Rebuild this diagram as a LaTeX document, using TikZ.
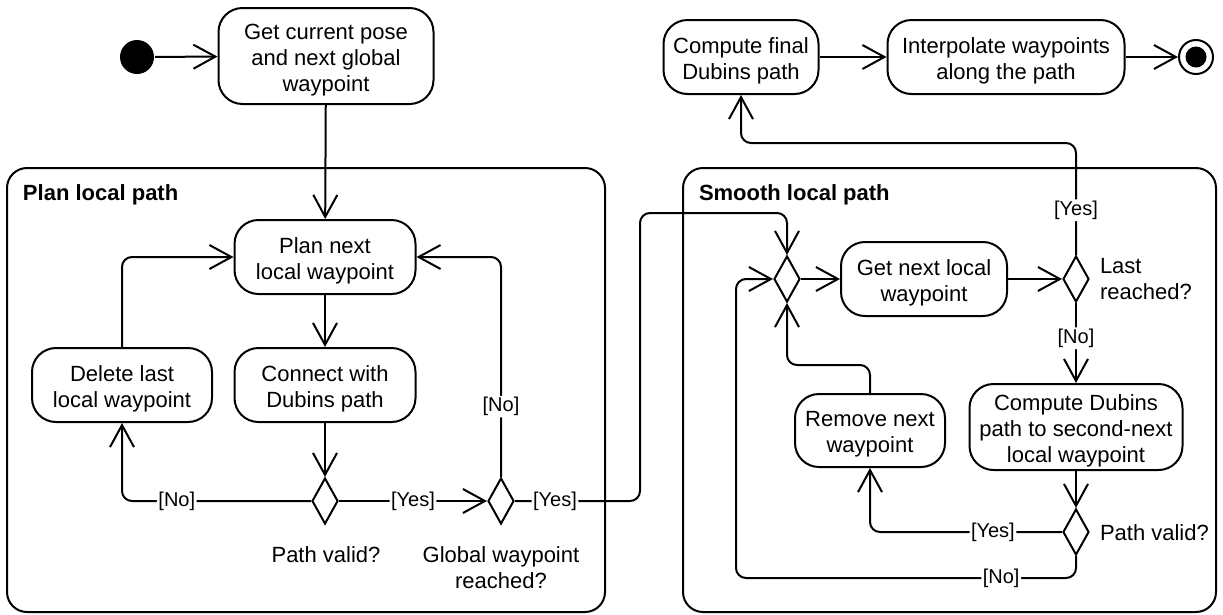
\documentclass[tikz,border=0pt]{standalone}
\usepackage{fontspec}
\setmainfont{Liberation Sans}
\usetikzlibrary{arrows.meta,shapes.geometric}

% invisible strut that lowers the text block inside the action boxes
\newcommand{\boxtop}{\rule{0pt}{23pt}}

\begin{document}
\begin{tikzpicture}[x=1pt,y=-1pt,
  line width=2pt,
  every node/.style={font=\fontsize{22}{26}\selectfont},
  act/.style={draw, rounded corners=24pt, align=center, inner sep=0pt},
  frame/.style={draw, rounded corners=20pt},
  frametitle/.style={anchor=west, inner sep=0pt, font=\fontsize{22}{26}\selectfont\bfseries},
  choice/.style={draw, diamond, inner sep=0pt, minimum width=26pt, minimum height=46pt},
  note/.style={anchor=west, align=left, inner sep=0pt},
  flow/.style={-{Straight Barb[length=22pt,width=24pt]}, rounded corners=10pt},
  guard/.style={fill=white, inner sep=1.5pt, font=\fontsize{20}{24}\selectfont},
]
\useasboundingbox (0,0) rectangle (1223,614);

% activity partitions
\node[frame, minimum width=598pt, minimum height=444pt] (plan) at (306,390) {};
\node[frametitle] (planT) at (22,195) {Plan local path};
\node[frame, minimum width=533pt, minimum height=444pt] (smooth) at (949.5,390) {};
\node[frametitle] (smoothT) at (698,195) {Smooth local path};

% initial and final nodes
\node[circle, fill=black, minimum size=34pt, inner sep=0pt] (start) at (137,57) {};
\node[circle, draw, minimum size=34pt, inner sep=0pt] (stop) at (1196,57) {};
\node[circle, fill=black, minimum size=21pt, inner sep=0pt] (stopDot) at (1196,57) {};

% actions
\node[act, minimum width=215pt, minimum height=96pt] (get) at (326,56) {\boxtop Get current pose\\and next global\\waypoint};
\node[act, minimum width=181pt, minimum height=74pt] (next) at (325,257) {\boxtop Plan next\\local waypoint};
\node[act, minimum width=181pt, minimum height=74pt] (connect) at (325,385) {\boxtop Connect with\\Dubins path};
\node[act, minimum width=180pt, minimum height=74pt] (delete) at (122,385) {\boxtop Delete last\\local waypoint};
\node[act, minimum width=155pt, minimum height=74pt] (final) at (741,57) {\boxtop Compute final\\Dubins path};
\node[act, minimum width=237pt, minimum height=74pt] (interp) at (1006,57) {\boxtop Interpolate waypoints\\along the path};
\node[act, minimum width=166pt, minimum height=74pt] (getnext) at (924,279) {\boxtop Get next local\\waypoint};
\node[act, minimum width=213pt, minimum height=86pt] (second) at (1076,427) {\boxtop Compute Dubins\\path to second-next\\local waypoint};
\node[act, minimum width=150pt, minimum height=73pt] (remove) at (870,430.5) {\boxtop Remove next\\waypoint};

% decisions
\node[choice] (valid) at (325,501) {};
\node[choice] (reached) at (501,501) {};
\node[choice] (merge) at (787,279) {};
\node[choice] (last) at (1076,279) {};
\node[choice] (check) at (1076,532) {};

\node (validL) at (326,555) {Path valid?};
\node[align=center] (reachedL) at (501,568) {Global waypoint\\reached?};
\node[note] (lastL) at (1099,279) {Last\\reached?};
\node[note] (checkL) at (1099,533) {Path valid?};

% bend points
\coordinate (hop1) at (640,213);
\coordinate (hop2) at (1076,143);
\coordinate (hop3) at (787,365);
\coordinate (hop4) at (736,578);

% control flow
\draw[flow] (start) -- (get);
\draw[flow] (get) -- (next);
\draw[flow] (next) -- (connect);
\draw[flow] (connect) -- (valid);
\draw[flow] (valid.west) -| node[guard,pos=0.355]{[No]} (delete.south);
\draw[flow] (valid.east) -- node[guard]{[Yes]} (reached.west);
\draw[flow] (delete.north) |- (next.west);
\draw[flow] (reached.north) |- node[guard,pos=0.16]{[No]} (next.east);
\draw[flow] (reached.east) -| node[guard,pos=0.16]{[Yes]} (hop1) -| (merge.north);
\draw[flow] (merge) -- (getnext);
\draw[flow] (getnext) -- (last);
\draw[flow] (last.north) -- node[guard,pos=0.4]{[Yes]} (hop2) -| (final.south);
\draw[flow] (last.south) -- node[guard,pos=0.44]{[No]} (second.north);
\draw[flow] (second) -- (check);
\draw[flow] (check.west) -| node[guard,pos=0.18]{[Yes]} (remove.south);
\draw[flow] (remove.north) |- (hop3) -- (merge.south);
\draw[flow] (check.south) |- node[guard,pos=0.61]{[No]} (hop4) |- (merge.west);
\draw[flow] (final) -- (interp);
\draw[flow] (interp) -- (stop);
\end{tikzpicture}
\end{document}
